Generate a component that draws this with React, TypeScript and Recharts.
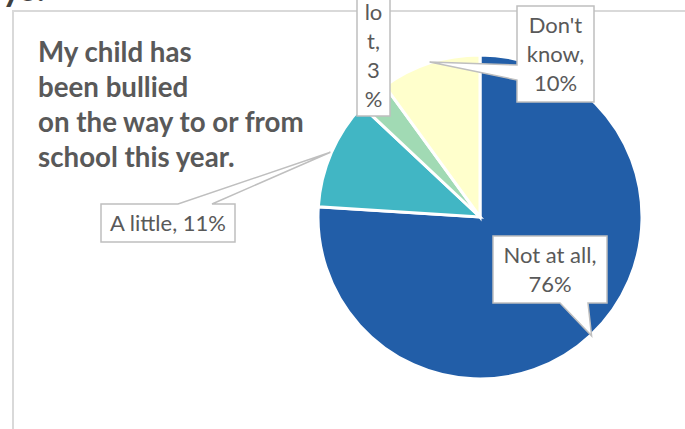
import React from "react";
import { PieChart, Pie, Cell } from "recharts";

const CATEGORIES = ["Not at all", "A little", "A lot", "Don't know"];
const PERCENTS = [76, 11, 3, 10];
const COLORS = ["#225EA8", "#41B6C4", "#A1DAB4", "#FFFFCC"];
const TITLE_LINES = ["My child has", "been bullied", "on the way to or from", "school this year."];
const CUT_OFF_HEADING = "ys."; // tail of a heading that sits above the crop

const data = CATEGORIES.map((name, i) => ({ name, value: PERCENTS[i] }));

const TEXT = "#595959";
const BORDER = "#BFBFBF";
const LABEL_FONT = 22;
const LINE_H = 29;

// where each callout box was dragged to, which edge the pointer leaves from,
// and how wide (in em) a text line may get before it wraps
const CALLOUTS: Record<string, any> = {
  "Not at all": { x: 493, y: 236, w: 114, h: 67, edge: "bottom", base: [560, 588], wrap: 5 },
  "A little": { x: 101, y: 204, w: 134, h: 38, edge: "top", base: [178, 212], wrap: 10 },
  "A lot": { x: 357, y: -33, w: 33, h: 149, edge: null, base: null, wrap: 1 },
  "Don't know": { x: 517, y: 6, w: 77, h: 96, edge: "left", base: [65, 80], wrap: 3 },
};

const charW = (c: string) => {
  if ("ilt,.' fr".includes(c)) return 0.3;
  if (c === "%") return 0.72;
  if (c === "w" || c === "m") return 0.75;
  if (c >= "A" && c <= "Z") return 0.6;
  return 0.5;
};
const textW = (s: string) => [...s].reduce((a, c) => a + charW(c), 0);

function wrap(text: string, max: number) {
  const lines: string[] = [];
  let cur = "";
  for (const word of text.split(" ")) {
    const cand = cur ? cur + " " + word : word;
    if (textW(cand) <= max) {
      cur = cand;
      continue;
    }
    if (cur) lines.push(cur);
    cur = "";
    for (const ch of word) {
      if (cur && textW(cur + ch) > max) {
        lines.push(cur);
        cur = ch;
      } else cur += ch;
    }
  }
  if (cur) lines.push(cur);
  return lines;
}

function calloutPath(c: any, tx: number, ty: number) {
  const { x, y, w, h, edge, base } = c;
  if (edge === "bottom")
    return `M${x},${y} L${x + w},${y} L${x + w},${y + h} L${base[1]},${y + h} L${tx},${ty} L${base[0]},${y + h} L${x},${y + h} Z`;
  if (edge === "top")
    return `M${x},${y} L${base[0]},${y} L${tx},${ty} L${base[1]},${y} L${x + w},${y} L${x + w},${y + h} L${x},${y + h} Z`;
  if (edge === "left")
    return `M${x},${y} L${x + w},${y} L${x + w},${y + h} L${x},${y + h} L${x},${base[1]} L${tx},${ty} L${x},${base[0]} Z`;
  return `M${x},${y} L${x + w},${y} L${x + w},${y + h} L${x},${y + h} Z`;
}

const renderCallout = (props: any) => {
  const { cx, cy, midAngle, outerRadius, value } = props;
  const name = props.payload?.name ?? props.name;
  const c = CALLOUTS[name];
  if (!c) return null;
  const rad = Math.PI / 180;
  const tx = cx + (outerRadius + 1) * Math.cos(-midAngle * rad);
  const ty = cy + (outerRadius + 1) * Math.sin(-midAngle * rad);
  const lines = wrap(`${name}, ${value}%`, c.wrap);
  const midY = c.y + c.h / 2;
  const first = midY - ((lines.length - 1) / 2) * LINE_H + LABEL_FONT * 0.35;
  return (
    <g key={name}>
      <path d={calloutPath(c, tx, ty)} fill="#fff" stroke={BORDER} strokeWidth={1.5} />
      <text textAnchor="middle" fill={TEXT} fontSize={LABEL_FONT} fontFamily="Lato, sans-serif">
        {lines.map((l, i) => (
          <tspan key={i} x={c.x + c.w / 2} y={first + i * LINE_H}>
            {l}
          </tspan>
        ))}
      </text>
    </g>
  );
};

export default function App() {
  return (
    <div style={{ position: "absolute", left: 0, top: 0 }}>
      <PieChart width={685} height={429} margin={{ top: 0, right: 0, bottom: 0, left: 0 }}>
        <Pie
          data={data}
          dataKey="value"
          nameKey="name"
          cx={480}
          cy={217}
          outerRadius={162}
          startAngle={90}
          endAngle={-270}
          stroke="#fff"
          strokeWidth={3}
          label={renderCallout}
          labelLine={false}
          isAnimationActive={false}
        >
          {data.map((d, i) => (
            <Cell key={d.name} fill={COLORS[i]} />
          ))}
        </Pie>
        <text fill={TEXT} fontSize={27.7} fontWeight="bold" fontFamily="Lato, sans-serif">
          {TITLE_LINES.map((l, i) => (
            <tspan key={i} x={38} y={62 + i * 35}>
              {l}
            </tspan>
          ))}
        </text>
        <rect x={0} y={0} width={685} height={10} fill="#fff" />
        <rect x={13} y={11} width={700} height={440} fill="none" stroke="#D9D9D9" strokeWidth={2} />
        <text x={2} y={1} fill="#404040" fontSize={36} fontWeight="bold" fontFamily="Lato, sans-serif">
          {CUT_OFF_HEADING}
        </text>
      </PieChart>
    </div>
  );
}
